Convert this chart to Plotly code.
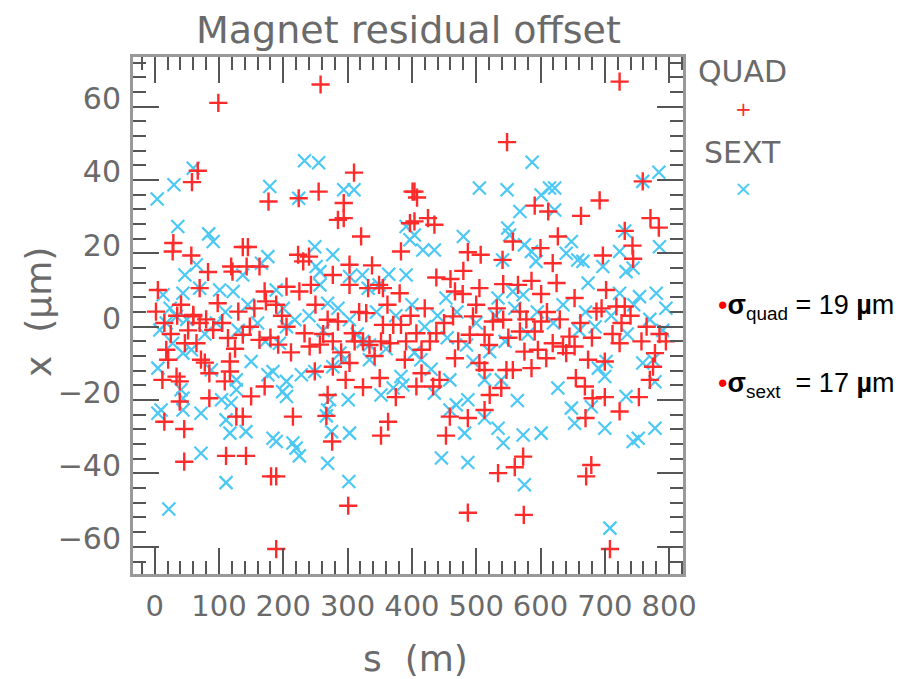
import plotly.graph_objects as go

# QUAD (red +) : position s (m) and offset x (um)
quad_s = [99, 67, 58, 177, 29, 28, 137, 145, 57, 83, 119, 121, 143, 163, 70, 5, 41, 98, 171, 173, 2, 60, 130,
          258, 310, 255, 224, 294, 401, 285, 294, 321, 397, 383, 223, 231, 240, 303, 338, 277, 303, 243, 205, 225,
          332, 349, 355, 381, 250, 189, 329,
          548, 591, 612, 404, 408, 404, 425, 435, 557, 600, 487, 507, 541, 480, 460, 438, 505, 467, 479, 542, 565,
          586, 601, 568,
          723, 759, 692, 663, 771, 784, 731, 627, 743, 697, 744, 619, 625, 702, 653, 687, 718, 731,
          15, 60, 70, 91, 114, 137, 163, 18, 21, 47, 65, 72, 78, 12, 34, 39, 85, 117, 117, 109, 150, 171, 39, 85,
          15, 127, 137, 46, 46, 111, 142, 181, 189,
          269, 285, 205, 233, 308, 311, 324, 334, 355, 371, 383, 352, 366, 391, 389, 277, 277, 249, 303, 241, 257,
          192, 297, 324, 350, 375, 269, 267, 215, 363, 276, 352, 189, 301,
          464, 495, 526, 542, 568, 591, 601, 438, 407, 490, 513, 415, 467, 505, 513, 547, 557, 575, 586, 596, 609,
          407, 433, 443, 521, 539, 415, 459, 487, 513, 453, 573, 560, 534, 487, 574,
          645, 653, 640, 619, 635, 674, 700, 726, 723, 757, 778, 775, 770, 655, 669, 681, 700, 753, 723, 670, 679,
          671, 708,
          25, 35, 52, 80, 105, 125, 148, 155, 180, 198, 212, 262, 290, 318, 342, 362, 398, 420, 428, 450, 472, 500,
          520, 532, 550, 578, 610, 630, 662, 680, 695, 712, 740, 765, 795, 785]
quad_x = [61, 42.5, 39.4, 34.1, 22.8, 20.5, 21.7, 21.7, 19.4, 14.9, 16.4, 15, 16.4, 16.4, 10.5, 10, 6, 6.4, 9.6, 6.9,
          4.1, 3.2, 4.1,
          66, 42, 36.8, 35, 33.7, 36.8, 29.1, 29.6, 24.6, 28.2, 20.5, 19.6, 17.8, 19.1, 16.9, 16.7, 14.1, 11.4, 11.4,
          10.9, 9.6, 10.5, 11.4, 10.5, 9.1, 6, 6, 3.7,
          50.3, 33, 31.4, 36.8, 35.2, 28.7, 29.6, 27.8, 23.2, 21.4, 20.3, 19.6, 18.2, 15.2, 13, 13.4, 10.5, 9.6, 8.9,
          11.6, 11.4, 12.5, 8.9, 4.1,
          66.8, 39.6, 34.4, 30.2, 29.6, 27, 26.1, 24.6, 22.1, 19.4, 18.5, 17.3, 11.9, 10, 7.8, 4.1, 5.5, 5.5,
          1, 2.8, 1, -0.9, -3.1, -2.2, -3.6, -6.3, -9, -4.5, -4.5, -9, -9.8, -14.5, -13.6, -14.9, -12.7, -9.5, -12.2,
          -14.9, -19, -16.3, -20.4, -19.5, -25.9, -24.5, -24.5, -27.9, -36.8, -35.2, -35.2, -40.8, -60.6,
          1.9, 1.4, 0, -1.8, -1.8, -4, -4, -5, 0.5, 0.5, 0.5, -4, -4.5, -4, -9, -4, -10.9, -12.2, -9.9, -5.4, -4.9,
          -4.9, -14.5, -16.5, -14, -19.2, -18.6, -24.3, -24.5, -25.9, -31.3, -29.7, -40.8, -48.8,
          2.8, 2.8, 1.4, 1.9, -1.3, -1.3, 1.4, -1.8, -1.8, -2.2, -2.2, -6.3, -8.6, -9.9, -11.8, -11.8, -11.8, -6.8,
          -11.3, -6.3, -8.6, -16.3, -16.3, -14.5, -18.6, -16.7, -12.7, -24.5, -24.9, -22.7, -29.7, -35.4, -38.3,
          -39.9, -50.7, -51.3,
          -2.7, -5.4, -7.2, -4.5, -5.4, -9, -9.5, 1, -4.5, -4, -7.2, -10.9, -14.5, -14, -16.3, -19.5, -19.2, -19.2,
          -23.1, -24.9, -37.7, -40.8, -60.6,
          -2, 3, -1, 2, 1, -6, 0, 5, -3, 3, -7, -2, -7, 4, -8, 6, 3, 5, -4, 1, -4, 6, -5, 5, -3, 2, 4, 2, 1, -3, 5,
          -2, 3, 0, -4, -2]

# SEXT (cyan x)
sext_s = [60, 30, 4, 179, 36, 84, 91, 65, 166, 176, 47, 137, 70, 13, 44, 101, 122,
          233, 255, 294, 310, 224, 391, 397, 249, 277, 251, 257, 303, 323, 364, 391, 257, 189, 269, 332, 349,
          587, 505, 548, 601, 614, 568, 549, 552, 480, 575, 586, 593, 404, 417, 435, 541, 534, 557, 573, 453,
          784, 759, 622, 622, 731, 648, 785, 640, 658, 666, 723, 697, 733, 744, 674, 723, 754, 780,
          8, 18, 34, 96, 28, 44, 57, 5, 88, 150, 127, 127, 176, 41, 44, 44, 104, 119, 10, 5, 72, 111, 117, 142,
          72, 111, 22, 184,
          303, 205, 218, 324, 334, 277, 288, 295, 334, 249, 194, 184, 205, 228, 199, 205, 352, 371, 386, 383,
          272, 301, 269, 267, 275, 303, 189, 215, 220, 225, 269, 302,
          435, 459, 469, 487, 513, 482, 534, 542, 564, 573, 601, 446, 487, 575, 404, 414, 430, 459, 513, 539,
          495, 521,
          627, 648, 653, 679, 700, 733, 744, 752, 778, 700, 690, 702, 759, 775, 778, 708,
          24, 50, 78, 110, 130, 145, 160, 172, 200, 240, 262, 285, 315, 345, 360, 375, 400, 420, 440, 455, 470,
          485, 500, 530, 545, 560, 580, 595, 620, 635, 660, 670, 685, 710, 735, 745, 770, 790, 795]
sext_x = [43.2, 38.7, 34.8, 38.2, 27.3, 25.3, 23.2, 16.9, 17.3, 19.1, 14.1, 14.1, 10.5, 8.7, 9.1, 10, 9.6,
          45.2, 44.7, 37.3, 37.3, 35, 27.3, 23.7, 21.8, 19.6, 16.4, 15, 13.7, 14.1, 14.3, 14.1, 11.4, 10, 6.4,
          10.5, 11.4,
          44.8, 37.8, 37.3, 35.9, 37.8, 31.4, 26.9, 25, 24.6, 22.3, 20.5, 17.8, 25, 20.9, 20.9, 18.2, 7.8, 9.6,
          8.7, 7.8,
          42.1, 39.6, 37.8, 31.8, 26.1, 23.2, 21.8, 20, 18.2, 17.8, 20.5, 16.4, 15, 16, 11.9, 9.1, 8.2, 9.1,
          -0.9, 1, 2.8, 1, -4.5, -7.2, -6.3, -11.3, -11.8, -9.5, -14.5, -17.2, -13.1, -17.2, -19.5, -22.7, -19.9,
          -20.8, -22.7, -23.6, -23.6, -25.4, -29, -28.6, -34.5, -42.5, -49.7, -30.4,
          1.9, 0, 1.9, -4, -5, -10.9, -7.2, -9, -9, -12.2, -4.5, -12.2, -14.9, -13.1, -17.7, -19, -18.6, -16.7,
          -15.9, -13.6, -19.9, -19.9, -22.7, -24.3, -28.6, -29, -31.3, -31.7, -33.1, -35.2, -37.2, -42.2,
          -18.1, -22.7, -21.3, -19.9, -24.9, -29, -27.7, -31.7, -20.1, -29.5, -29, -35.8, -37, -43.1, -7, -9,
          -11.6, -14.5, -14.5, -14.5, -9.5, -6.8,
          -16.7, -22.2, -26.3, -21.8, -27.7, -19, -31.3, -30.4, -27.7, -13.6, -11.3, -9.5, -9.9, -9, -15, -54.9,
          5, 2, -2, 4, -1, 6, 1, -4, 5, 3, -1, 5, -2, 4, -6, 3, 6, 0, 3, -3, 4, -5, 1, 3, -4, 5, -2, 4, 1, 6, -1,
          4, 0, 3, -2, 6, 2, -1, 5]

title_text = "Magnet residual offset"
x_title = "s  (m)"
y_title = "x  (µm)"
sigma_quad = 19
sigma_sext = 17

GREY = "#6a6a6a"
FONT = "DejaVu Sans"

fig = go.Figure()
fig.add_trace(go.Scatter(x=sext_s, y=sext_x, mode="markers", name="SEXT",
                         marker=dict(symbol="x-thin", size=13, line=dict(width=2.2, color="#4cc8f4"))))
fig.add_trace(go.Scatter(x=quad_s, y=quad_x, mode="markers", name="QUAD",
                         marker=dict(symbol="cross-thin", size=13, line=dict(width=2.4, color="#ff2a2a"))))

L, R, T, B = 133, 217, 57, 105
W, H = 900, 679
pw, ph = W - L - R, H - T - B


def px(xp):
    return (xp - L) / pw


def py(yp):
    return (H - B - yp) / ph


axis_common = dict(showline=True, linecolor="#999999", linewidth=3, mirror="allticks",
                   ticks="inside", tickcolor="#555555", tickwidth=2, ticklen=26,
                   showgrid=False, zeroline=False)

fig.update_xaxes(range=[-33.7, 821.6], dtick=100, tick0=0, ticklabelstandoff=4,
                 tickfont=dict(family=FONT, size=29, color=GREY),
                 minor=dict(dtick=20, ticklen=13, tickcolor="#555555", tickwidth=2, ticks="inside"),
                 **axis_common)
fig.update_yaxes(range=[-67.4, 73.5], dtick=20, tick0=0, ticklabelshift=-8,
                 ticklabelstandoff=3,
                 tickfont=dict(family=FONT, size=30, color=GREY),
                 minor=dict(dtick=4, ticklen=13, tickcolor="#555555", tickwidth=2, ticks="inside"),
                 **axis_common)

SIG_FONT = dict(family="Liberation Sans", size=27, color="black")
annotations = [
    dict(text=title_text, x=px(408), y=py(30), font=dict(family=FONT, size=38, color=GREY)),
    dict(text=x_title, x=px(415), y=py(658), font=dict(family=FONT, size=36, color=GREY)),
    dict(text=y_title, x=px(38), y=py(312), textangle=-90, font=dict(family=FONT, size=36, color=GREY)),
    dict(text="QUAD", x=px(742), y=py(72), font=dict(family=FONT, size=30, color=GREY)),
    dict(text="+", x=px(743), y=py(109), font=dict(family=FONT, size=20, color="#ff2a2a")),
    dict(text="SEXT", x=px(742), y=py(152), font=dict(family=FONT, size=30, color=GREY)),
    dict(text="×", x=px(743), y=py(188), font=dict(family=FONT, size=22, color="#4cc8f4")),
    dict(text="<span style='color:red'>•</span><b>σ</b><sub>quad</sub> = %d <b>µ</b>m" % sigma_quad,
         x=px(716), y=py(307), xanchor="left", font=SIG_FONT),
    dict(text="<span style='color:red'>•</span><b>σ</b><sub>sext</sub>  = %d <b>µ</b>m" % sigma_sext,
         x=px(716), y=py(385), xanchor="left", font=SIG_FONT),
]
for a in annotations:
    a.update(xref="paper", yref="paper", showarrow=False)
    a.setdefault("xanchor", "center")
    a.setdefault("yanchor", "middle")

fig.update_layout(width=W, height=H, margin=dict(l=L, r=R, t=T, b=B),
                  paper_bgcolor="white", plot_bgcolor="white", showlegend=False,
                  annotations=annotations)

fig.write_html("out.html")
